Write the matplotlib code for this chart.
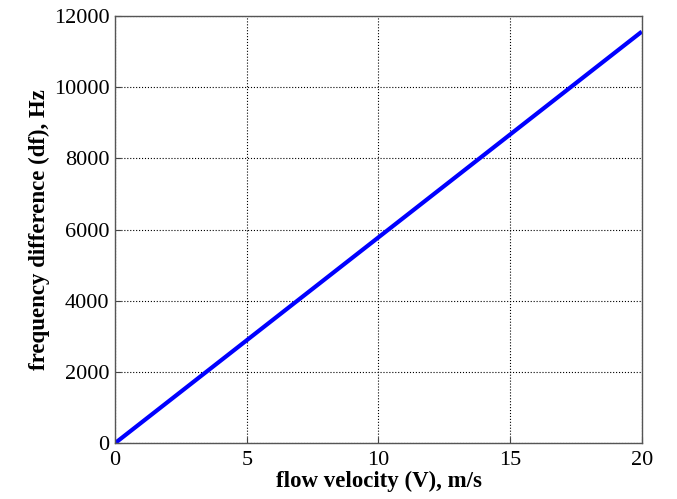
import matplotlib.pyplot as plt

# flow velocity (m/s) vs frequency difference (Hz)
velocity = [0, 5, 10, 15, 20]
freq_diff = [0, 2890, 5780, 8670, 11560]

xticks = [0, 5, 10, 15, 20]
yticks = [0, 2000, 4000, 6000, 8000, 10000, 12000]

plt.rcParams['font.family'] = ['Liberation Serif', 'DejaVu Serif']

fig = plt.figure(figsize=(6.77, 4.99), dpi=100)
ax = fig.add_axes([0.170, 0.112, 0.778, 0.856])

ax.plot(velocity, freq_diff, color='#0000ff', linewidth=3.0, solid_capstyle='butt')

ax.set_xlim(0, 20)
ax.set_ylim(0, 12000)
ax.set_xticks(xticks)
ax.set_yticks(yticks)
ax.tick_params(direction='in', labelsize=16, length=4, color='#444444')
ax.tick_params(axis='x', pad=6)
ax.tick_params(axis='y', pad=4)
ax.grid(True, linestyle=':', color='black', linewidth=0.8)

for s in ax.spines.values():
    s.set_color('#555555')
    s.set_linewidth(1.0)

ax.set_xlabel('flow velocity (V), m/s', fontsize=16.5, fontweight='bold', labelpad=0)
ax.set_ylabel('frequency difference (df), Hz', fontsize=16.5, fontweight='bold', labelpad=3)

fig.savefig('out.png', dpi=100)
